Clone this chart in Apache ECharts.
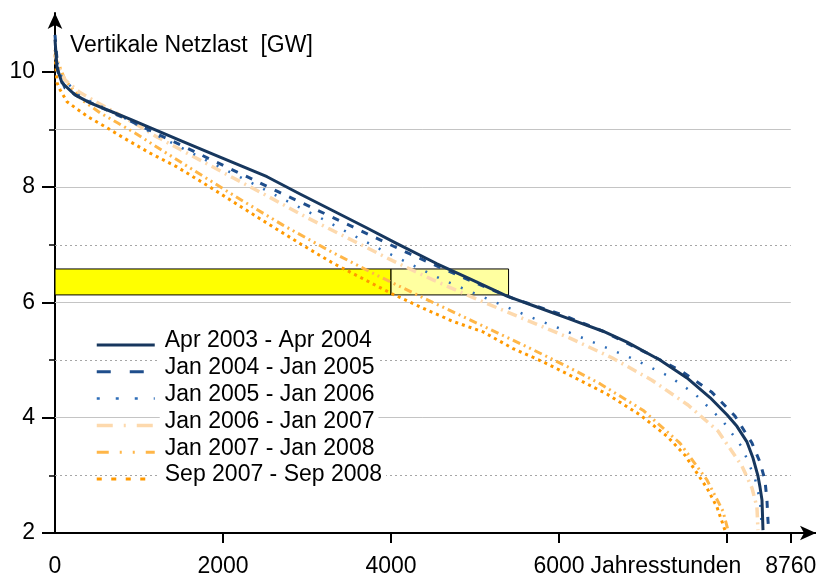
<!DOCTYPE html>
<html><head><meta charset="utf-8">
<script src="https://cdn.jsdelivr.net/npm/echarts@6/dist/echarts.min.js"></script>
<style>html,body{margin:0;padding:0;background:#fff}#c{width:816px;height:576px}</style>
</head><body><div id="c"></div>
<script>
// ---- data ----
const seriesNames = ['Apr 2003 - Apr 2004','Jan 2004 - Jan 2005','Jan 2005 - Jan 2006','Jan 2006 - Jan 2007','Jan 2007 - Jan 2008','Sep 2007 - Sep 2008'];

const apr03Hours = [0,24,83,238,417,655,893,1131,1524,1929,2524,2917,3310,3714,4071,4548,4940,5381,5738,6131,6524,6810,7202,7524,7798,8000,8119,8238,8310,8369,8393,8417,8429];
const apr03Load  = [10.56,10.07,9.81,9.60,9.46,9.32,9.18,9.03,8.79,8.54,8.18,7.88,7.59,7.29,7.02,6.67,6.41,6.11,5.92,5.71,5.50,5.31,5.00,4.69,4.35,4.05,3.85,3.58,3.30,2.99,2.80,2.57,2.05];

const jan04Hours = [0,36,119,298,536,893,1190,1512,1881,2286,2655,3036,3429,3833,4226,4643,5036,5452,6012,6524,7119,7476,7821,8095,8298,8393,8452,8476,8488,8500];
const jan04Load  = [10.64,10.0,9.72,9.55,9.39,9.15,8.94,8.72,8.46,8.18,7.92,7.66,7.39,7.11,6.84,6.57,6.32,6.07,5.80,5.50,5.07,4.79,4.44,4.03,3.56,3.23,2.92,2.57,2.22,2.01];

const jan05Hours = [0,60,298,536,893,1131,1726,2345,2798,3155,3476,3929,4619,5119,5619,5988,6488,6869,7321,7619,7952,8179,8333,8393,8417];
const jan05Load  = [10.38,9.95,9.57,9.41,9.15,8.96,8.52,8.07,7.73,7.47,7.22,6.88,6.39,6.08,5.77,5.56,5.26,5.03,4.71,4.41,3.94,3.49,2.95,2.57,2.05];

const jan06Hours = [0,36,119,298,536,774,1012,1214,1571,2083,2536,3000,3548,4024,4500,5060,5571,6131,6631,7107,7536,7893,8179,8298,8357,8369];
const jan06Load  = [10.30,10.10,9.86,9.64,9.44,9.25,9.05,8.87,8.59,8.19,7.84,7.47,7.07,6.72,6.39,6.03,5.72,5.38,5.04,4.65,4.22,3.77,3.16,2.78,2.45,2.05];

const jan07Hours = [0,36,119,321,536,738,952,1250,1643,2179,2714,3274,3833,4440,5024,5619,6095,6488,7000,7440,7762,7952,8012];
const jan07Load  = [10.38,10.16,9.86,9.51,9.29,9.12,8.94,8.66,8.30,7.81,7.34,6.89,6.47,6.04,5.64,5.23,4.89,4.59,4.13,3.56,2.92,2.38,2.05];

const sep07Hours = [0,24,60,143,238,393,595,798,1131,1452,1845,2202,2595,2940,3310,3667,4012,4381,4738,5095,5452,5810,6167,6571,6964,7286,7500,7762,7881,7976];
const sep07Load  = [10.30,9.81,9.69,9.48,9.38,9.22,9.05,8.87,8.59,8.35,8.00,7.67,7.31,7.00,6.68,6.41,6.15,5.90,5.67,5.49,5.20,4.97,4.71,4.41,4.05,3.68,3.35,2.78,2.45,2.05];

const yTickLabels = [2,4,6,8,10];
const yMinorTicks = [3,5,7,9];
const xTickLabels = [0,2000,4000,6000,8760];
const xTickValues = [2000,4000,6000,8000,8760];
const solidGridValues = [4,6,8,9];
const dottedGridValues = [3,5,7];
const bandHours = [0,4000,5400];
const bandLoad = [6.13,6.58];

// ---- styles ----
const FONT = '"Liberation Sans", Arial, sans-serif';
const styles = [
  {color:'#17375e', width:3, type:'solid', legendType:'solid', z:8},
  {color:'#1f4e8c', width:3, type:[7,9], legendType:[14,19], z:7},
  {color:'#2e6db8', width:2.5, type:[2,11], legendType:[3,16], z:6},
  {color:'#fdd9ad', width:3.5, type:[10,5,2,5], legendType:[16,11,2,11], z:5},
  {color:'#ffb648', width:3, type:[8,4,2,4,2,4], legendType:[12,11,2,11,2,11], z:4},
  {color:'#ff9900', width:3, type:[3,4], legendType:[5,9.5], z:3}
];
const hoursList = [apr03Hours, jan04Hours, jan05Hours, jan06Hours, jan07Hours, sep07Hours];
const loadList = [apr03Load, jan04Load, jan05Load, jan06Load, jan07Load, sep07Load];

const curveSeries = seriesNames.map((name, k) => ({
  name, type:'line', symbol:'none', showSymbol:false, smooth:false, z: styles[k].z,
  data: hoursList[k].map((h, i) => [h, loadList[k][i]]),
  lineStyle: {color: styles[k].color, width: styles[k].width, type: styles[k].type, cap:'butt', join:'round'},
  itemStyle: {color: styles[k].color}
}));

const gridLines = [
  ...solidGridValues.map(v => [{coord:[0, v], lineStyle:{color:'#c4c4c4', width:1, type:'solid'}}, {coord:[8760, v]}]),
  ...dottedGridValues.map(v => [{coord:[0, v], lineStyle:{color:'#a6a6a6', width:1, type:[2,3]}}, {coord:[8760, v]}])
];

const helperSeries = {
  name:'_helper', type:'line', data:[], z:1, silent:true,
  markLine:{silent:true, symbol:['none','none'], z:1, label:{show:false}, animation:false, data: gridLines},
  markArea:{silent:true, z:1, label:{show:false}, data:[
    [{coord:[bandHours[0], bandLoad[0]], itemStyle:{color:'#ffff00', borderColor:'#000', borderWidth:1}}, {coord:[bandHours[1], bandLoad[1]]}],
    [{coord:[bandHours[1], bandLoad[0]], itemStyle:{color:'rgba(255,255,120,0.7)', borderColor:'#000', borderWidth:1}}, {coord:[bandHours[2], bandLoad[1]]}]
  ]}
};

const axisLineStyle = {color:'#000', width:2};
const chart = echarts.init(document.getElementById('c'), null, {renderer:'canvas'});
chart.setOption({
  animation:false,
  backgroundColor:'#fff',
  textStyle:{fontFamily:FONT},
  title:{text:'Vertikale Netzlast  [GW]', left:70, top:34, padding:0,
    textStyle:{fontSize:23, fontWeight:'normal', color:'#000', fontFamily:FONT}},
  grid:{left:55, right:0, top:13, bottom:43, containLabel:false, outerBoundsMode:'none'},
  xAxis:{type:'value', min:0, max:9060,
    axisLine:{show:true, onZero:false, symbol:['none','arrow'], symbolSize:[11,16], lineStyle:axisLineStyle},
    axisTick:{show:true, customValues:xTickValues, length:10, lineStyle:{color:'#000', width:2}},
    axisLabel:{show:true, customValues:xTickLabels, formatter: v => String(v), margin:22, fontSize:23, color:'#000', fontFamily:FONT},
    splitLine:{show:false},
    name:'Jahresstunden', nameLocation:'end', nameGap:-79,
    nameTextStyle:{fontSize:23, color:'#000', fontFamily:FONT, align:'right', verticalAlign:'top', padding:[22,0,0,0]}
  },
  yAxis:[
    {type:'value', min:2, max:11.02, position:'left',
      axisLine:{show:true, onZero:false, symbol:['none','arrow'], symbolSize:[11,16], lineStyle:axisLineStyle},
      axisTick:{show:true, customValues:yTickLabels, length:13, lineStyle:{color:'#000', width:2}},
      axisLabel:{show:true, customValues:yTickLabels, formatter: v => String(v), margin:20, fontSize:23, color:'#000', fontFamily:FONT},
      splitLine:{show:false}},
    {type:'value', min:2, max:11.02, position:'left',
      axisLine:{show:false},
      axisTick:{show:true, customValues:yMinorTicks, length:6, lineStyle:{color:'#000', width:1.5}},
      axisLabel:{show:false}, splitLine:{show:false}}
  ],
  legend:{orient:'vertical', left:95, top:329.5, padding:0, itemWidth:58, itemHeight:14, itemGap:-4.2,
    selectedMode:false,
    itemStyle:{opacity:0},
    formatter: name => '{t|' + name + '}',
    textStyle:{fontSize:23, lineHeight:23, color:'#000', fontFamily:FONT, backgroundColor:'#fff', padding:[0,4,8,5],
      rich:{t:{fontSize:23, lineHeight:23, color:'#000', fontFamily:FONT}}},
    data: seriesNames.map((n, k) => ({name:n,
      itemStyle:{opacity:0, color:'rgba(0,0,0,0)', borderWidth:0},
      lineStyle:{color:styles[k].color, width:styles[k].width, type:styles[k].legendType, cap:'butt', opacity:1}}))
  },
  series:[helperSeries, ...curveSeries]
});
</script></body></html>
